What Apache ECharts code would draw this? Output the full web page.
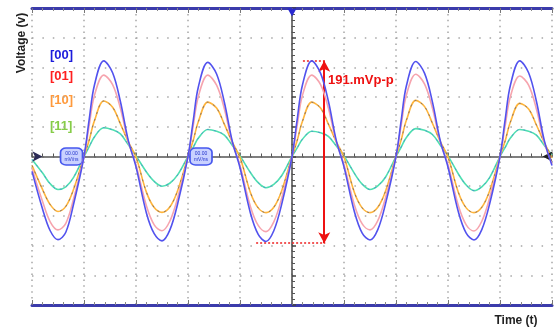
<!DOCTYPE html>
<html>
<head>
<meta charset="utf-8">
<script src="https://cdn.jsdelivr.net/npm/echarts@6/dist/echarts.min.js"></script>
<style>
  html, body { margin: 0; padding: 0; background: #fff; }
  #chart { width: 555px; height: 328px; }
</style>
</head>
<body>
<div id="chart"></div>
<script>
// time in screen divisions (10 div across, 0 = centre line)
var time = [
  -5, -4.8, -4.65, -4.5, -4.35, -4.2,
  -4, -3.9, -3.8, -3.62, -3.45, -3.3, -3.15, -3, -2.8, -2.65, -2.5, -2.35, -2.2,
  -2, -1.9, -1.8, -1.62, -1.45, -1.3, -1.15, -1, -0.8, -0.65, -0.5, -0.35, -0.2,
  0, 0.1, 0.2, 0.38, 0.55, 0.7, 0.85, 1, 1.2, 1.35, 1.5, 1.65, 1.8,
  2, 2.1, 2.2, 2.38, 2.55, 2.7, 2.85, 3, 3.2, 3.35, 3.5, 3.65, 3.8,
  4, 4.1, 4.2, 4.38, 4.55, 4.7, 4.85, 5
];
// voltage in vertical divisions
var wave00 = [
  -0.5, -1.75, -2.5, -2.8, -2.55, -1.6,
  0, 1.25, 2.4, 3.22, 2.82, 1.85, 0.55, -0.35, -1.9, -2.6, -2.84, -2.48, -1.6,
  0, 1.2, 2.35, 3.17, 2.78, 1.82, 0.52, -0.38, -1.9, -2.62, -2.86, -2.5, -1.62,
  0, 1.25, 2.4, 3.22, 2.8, 1.86, 0.55, -0.35, -1.86, -2.58, -2.81, -2.46, -1.58,
  0, 1.22, 2.38, 3.2, 2.8, 1.84, 0.54, -0.36, -1.87, -2.58, -2.81, -2.46, -1.6,
  0, 1.25, 2.4, 3.22, 2.82, 1.86, 0.55, -0.3
];
var wave01 = [
  -0.4, -1.5, -2.2, -2.47, -2.25, -1.42,
  0, 1.05, 2.05, 2.74, 2.42, 1.62, 0.5, -0.28, -1.66, -2.3, -2.5, -2.18, -1.4,
  0, 1.03, 2.03, 2.74, 2.4, 1.6, 0.48, -0.3, -1.68, -2.32, -2.53, -2.2, -1.42,
  0, 1.05, 2.05, 2.74, 2.42, 1.62, 0.5, -0.28, -1.63, -2.27, -2.47, -2.16, -1.38,
  0, 1.06, 2.07, 2.77, 2.44, 1.63, 0.5, -0.28, -1.66, -2.3, -2.51, -2.18, -1.4,
  0, 1.04, 2.02, 2.71, 2.4, 1.6, 0.48, -0.25
];
var wave10 = [
  -0.3, -1.1, -1.62, -1.85, -1.68, -1.1,
  0, 0.55, 1.2, 1.87, 1.66, 1.1, 0.5, -0.02, -1.2, -1.72, -1.88, -1.7, -1.15,
  0, 0.54, 1.18, 1.83, 1.63, 1.08, 0.49, -0.03, -1.21, -1.73, -1.89, -1.71, -1.16,
  0, 0.54, 1.18, 1.83, 1.63, 1.09, 0.5, -0.02, -1.21, -1.73, -1.89, -1.71, -1.16,
  0, 0.56, 1.22, 1.89, 1.68, 1.12, 0.51, -0.02, -1.21, -1.73, -1.89, -1.71, -1.16,
  0, 0.53, 1.16, 1.79, 1.6, 1.06, 0.48, -0.05
];
var wave11 = [
  -0.1, -0.55, -0.92, -1.11, -1.02, -0.7,
  0, 0.33, 0.66, 0.97, 0.9, 0.76, 0.4, 0.02, -0.52, -0.84, -1.0, -0.9, -0.62,
  0, 0.31, 0.62, 0.91, 0.85, 0.72, 0.38, 0.02, -0.54, -0.88, -1.05, -0.94, -0.65,
  0, 0.29, 0.58, 0.85, 0.8, 0.68, 0.36, 0.02, -0.57, -0.93, -1.11, -0.99, -0.69,
  0, 0.32, 0.64, 0.94, 0.88, 0.74, 0.39, 0.02, -0.59, -0.96, -1.15, -1.02, -0.71,
  0, 0.31, 0.62, 0.91, 0.85, 0.72, 0.38, 0.05
];
var names = ['[00]', '[01]', '[10]', '[11]'];
var lineColors = ['#5252ee', '#f6a4ae', '#ffb53c', '#4fe0b0'];
var textColors = ['#1c1cdc', '#ff2020', '#ff9a3c', '#86cc48'];

// peak-to-peak cursor
var ppText = '191.mVp-p';
var ppTop = 3.22, ppBottom = -2.92, ppX = 0.62;

function pairs(ys) {
  return time.map(function (t, i) { return [t, ys[i]]; });
}

var dots = { color: '#a6a6a6', width: 1.5 };
function xAxisBase(pos) {
  return {
    type: 'value', min: -5, max: 5, interval: 1, position: pos,
    axisLabel: { show: false },
    axisTick: { inside: true, length: 5, lineStyle: { color: '#777' } },
    minorTick: { show: true, splitNumber: 5, length: 3, lineStyle: { color: '#888' } },
    splitLine: { show: false }
  };
}
var xBottom = xAxisBase('bottom');
xBottom.axisLine = { onZero: false, lineStyle: { color: '#3b3bab', width: 3 } };
xBottom.splitLine = { show: true, lineStyle: { color: dots.color, width: dots.width, type: [1.5, 4.4] } };
var xTop = xAxisBase('top');
xTop.axisLine = { onZero: false, lineStyle: { color: '#3b3bab', width: 3 } };
var xMid = xAxisBase('bottom');
xMid.axisLine = { onZero: true, onZeroAxisIndex: 0, lineStyle: { color: '#555', width: 1.5 } };
xMid.axisTick = { inside: true, length: 4, lineStyle: { color: '#444', width: 1.5 } };
xMid.minorTick = { show: true, splitNumber: 5, length: 3, lineStyle: { color: '#555' } };

var series = [];
function addWave(i, data, z) {
  series.push({
    name: names[i], type: 'line', data: pairs(data), xAxisIndex: 0,
    symbol: 'none', smooth: 0.35, z: z, animation: false,
    lineStyle: { color: lineColors[i], width: 1.6 }
  });
}
function addOverlay(data, color, z) {
  series.push({
    type: 'line', data: pairs(data), symbol: 'none', smooth: 0.35, z: z, animation: false,
    silent: true, lineStyle: { color: color, width: 1, type: [2, 5], opacity: 0.7 }
  });
}
addWave(3, wave11, 2);
addOverlay(wave11, '#4d7bd6', 3);
addWave(2, wave10, 4);
addOverlay(wave10, '#555577', 5);
addWave(1, wave01, 6);
addWave(0, wave00, 7);

var boxStyle = { color: '#c9d1ff', borderColor: '#4657ee', borderWidth: 1.5 };
var boxLabel = { show: true, formatter: '00.00\nmV/ns', fontSize: 5, lineHeight: 6, color: '#2233cc' };
// scope markers and cursor go on the top-most trace
series[series.length - 1].markPoint = {
  silent: true, animation: false,
  data: [
    { coord: [0, 4.85], symbol: 'triangle', symbolSize: [9, 8], symbolRotate: 180, itemStyle: { color: '#2a2ad0' }, label: { show: false } },
    { coord: [-4.8, 0], symbol: 'arrow', symbolSize: [8, 10], symbolRotate: -90, itemStyle: { color: '#2b2b55' }, label: { show: false } },
    { coord: [4.82, 0], symbol: 'arrow', symbolSize: [8, 10], symbolRotate: 90, itemStyle: { color: '#222' }, label: { show: false } },
    { coord: [-4.24, 0], symbol: 'roundRect', symbolSize: [22, 17], itemStyle: boxStyle, label: boxLabel },
    { coord: [-1.75, 0], symbol: 'roundRect', symbolSize: [22, 17], itemStyle: boxStyle, label: boxLabel }
  ]
};
series[series.length - 1].markLine = {
  silent: true, animation: false, label: { show: false },
  data: [
    [{ coord: [ppX, ppTop], symbol: 'arrow', symbolSize: [9, 11] },
     { coord: [ppX, ppBottom], symbol: 'arrow', symbolSize: [9, 11], lineStyle: { color: '#ee1111', width: 2, type: 'solid' } }],
    [{ coord: [0.21, ppTop], symbol: 'none' },
     { coord: [0.64, ppTop], symbol: 'none', lineStyle: { color: '#ee2222', width: 1.5, type: [2, 2] } }],
    [{ coord: [-0.69, ppBottom], symbol: 'none' },
     { coord: [0.64, ppBottom], symbol: 'none', lineStyle: { color: '#ee2222', width: 1.5, type: [2, 2] } }]
  ]
};

var font = '"Liberation Sans", Arial, sans-serif';
var graphics = [
  { type: 'text', x: 22, y: 43, rotation: Math.PI / 2,
    style: { text: 'Voltage (v)', font: 'bold 12px ' + font, fill: '#222', align: 'center', verticalAlign: 'middle' } },
  { type: 'text', x: 516, y: 321,
    style: { text: 'Time (t)', font: 'bold 12px ' + font, fill: '#222', align: 'center', verticalAlign: 'middle' } },
  { type: 'text', x: 328, y: 80, z: 20,
    style: { text: ppText, font: 'bold 13px ' + font, fill: '#ee1111', align: 'left', verticalAlign: 'middle' } }
];
var labelY = [55, 76, 100, 126];
names.forEach(function (n, i) {
  graphics.push({ type: 'text', x: 50, y: labelY[i],
    style: { text: n, font: 'bold 13px ' + font, fill: textColors[i], align: 'left', verticalAlign: 'middle' } });
});

var chart = echarts.init(document.getElementById('chart'));
chart.setOption({
  backgroundColor: '#fff',
  animation: false,
  grid: { left: 32, right: 3, top: 8, bottom: 23 },
  xAxis: [xBottom, xTop, xMid],
  yAxis: [{
    type: 'value', min: -5, max: 5, interval: 1,
    axisLabel: { show: false },
    axisLine: { onZero: true, lineStyle: { color: '#4a4a4a', width: 1.5 } },
    axisTick: { inside: true, length: 4, lineStyle: { color: '#444', width: 1.5 } },
    minorTick: { show: true, splitNumber: 5, length: 3, lineStyle: { color: '#555' } },
    splitLine: { show: true, lineStyle: { color: dots.color, width: dots.width, type: [1.5, 8.9] } }
  }],
  series: series,
  graphic: graphics
});
</script>
</body>
</html>
